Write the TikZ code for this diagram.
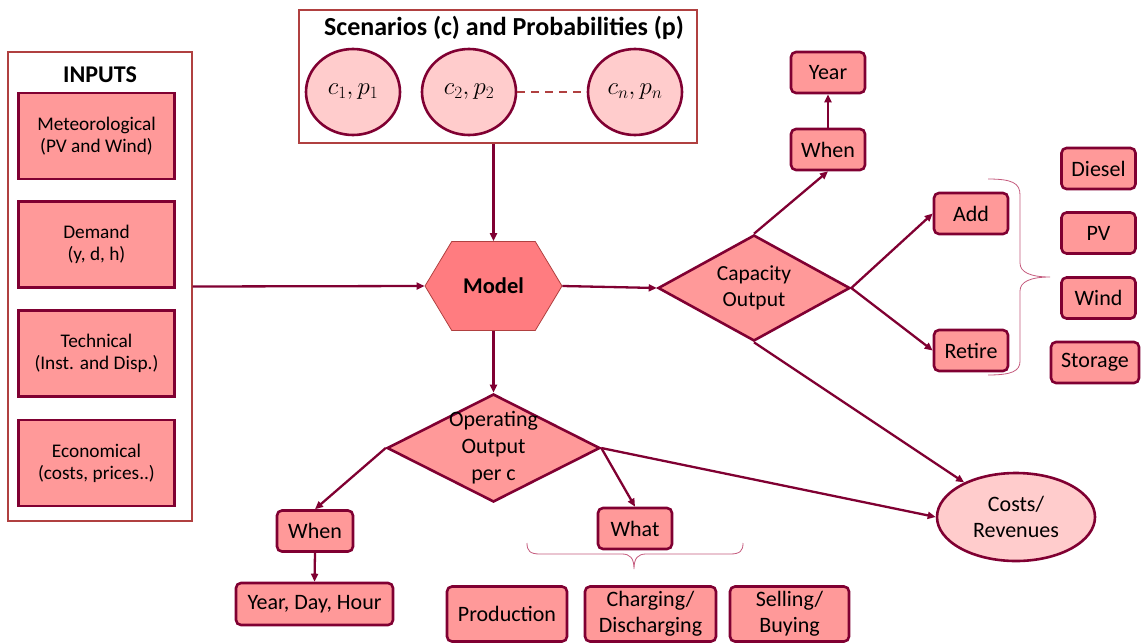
\documentclass[tikz,border=0pt]{standalone}
\usepackage{fontspec}
\setmainfont{Carlito}
\usepackage{amsmath}
\usetikzlibrary{arrows.meta,positioning,shapes.geometric,shapes.symbols}
\definecolor{mymaroon}{RGB}{128,0,50}
\definecolor{myframe}{RGB}{176,64,64}
\definecolor{mypink}{RGB}{255,153,153}
\definecolor{mylight}{RGB}{255,204,204}
\definecolor{mymodel}{RGB}{255,124,128}
\definecolor{mybrace}{RGB}{196,90,125}

\begin{document}
\begin{tikzpicture}[
    x=1pt,y=-1pt,
    frame/.style={draw=myframe,line width=1.3pt,inner sep=0pt},
    title/.style={font=\fontsize{24}{28}\selectfont\bfseries},
    inbox/.style={draw=mymaroon,line width=2.6pt,fill=mypink,minimum width=156pt,minimum height=86pt,font=\fontsize{19.3}{22}\selectfont,align=center},
    rbox/.style={draw=mymaroon,line width=2.6pt,fill=mypink,rounded corners=5pt,minimum width=74pt,minimum height=41pt,font=\fontsize{22}{26}\selectfont,align=center,inner sep=2pt},
    scen/.style={ellipse,draw=mymaroon,line width=2.6pt,fill=mylight,minimum width=94pt,minimum height=86pt,font=\fontsize{24}{28}\selectfont},
    dia/.style={diamond,draw=mymaroon,line width=2.6pt,fill=mypink,inner sep=0pt},
    arr/.style={-{Triangle[length=8pt,width=7pt]},mymaroon,line width=2.3pt},
    brc/.style={draw=mybrace,line width=0.8pt}
]
\useasboundingbox (0,0) rectangle (1142,643);

% inputs
\node[frame,minimum width=184pt,minimum height=469pt] (inputs) at (100,286.5) {};
\node[title] (inputstitle) at (100,75) {INPUTS};
\node[inbox] (met)  at (96.5,136)   {Meteorological\\(PV and Wind)};
\node[inbox] (dem)  at (96.5,244.5) {Demand\\(y, d, h)};
\node[inbox] (tech) at (96.5,353.5) {Technical\\(Inst. and Disp.)};
\node[inbox] (eco)  at (96.5,463)   {Economical\\(costs, prices..)};

% scenarios
\node[frame,minimum width=398pt,minimum height=133pt] (scen) at (498,76.5) {};
\node[title,font=\fontsize{26}{30}\selectfont\bfseries] (scentitle) at (504,28) {Scenarios (c) and Probabilities (p)};
\node[scen] (c1) at (353,92) {$c_1,p_1$};
\node[scen] (c2) at (469,92) {$c_2,p_2$};
\node[scen] (cn) at (635,92) {$c_n,p_n$};
\draw[myframe,line width=2.2pt,dash pattern=on 8pt off 6pt] (c2.east) -- (cn.west);

% model
\node[signal,signal to=west and east,signal pointer angle=118,draw=myframe,line width=0.8pt,fill=mymodel,
      minimum width=137pt,minimum height=89pt,inner sep=0pt,font=\fontsize{22.5}{26}\selectfont\bfseries] (model) at (493.5,286) {Model};

% capacity side
\node[dia,minimum width=192pt,minimum height=106pt,
      label={[font=\fontsize{21.5}{26}\selectfont,align=center]center:Capacity\\Output}] (cap) at (754,288) {};
\node[rbox] (whencap) at (828,149.5) {When};
\node[rbox] (year)    at (828,72.5)  {Year};
\node[rbox] (add)     at (971,213.5) {Add};
\node[rbox] (retire)  at (971,350.5) {Retire};
\node[rbox] (diesel)  at (1098.5,168.5) {Diesel};
\node[rbox] (pv)      at (1098.5,233)   {PV};
\node[rbox] (wind)    at (1098.5,298)   {Wind};
\node[rbox,minimum width=88pt] (storage) at (1095,362.5) {Storage};
\draw[brc] (988,179) .. controls (1012,179) and (1020,183) .. (1020,195) -- (1020,263)
    .. controls (1020,272) and (1030,277) .. (1050,277)
    .. controls (1030,277) and (1020,282) .. (1020,291) -- (1020,361)
    .. controls (1020,371) and (1012,375) .. (988,375);

% operating side
\node[dia,minimum width=213pt,minimum height=108pt,
      label={[font=\fontsize{22}{27}\selectfont,align=center]center:Operating\\Output\\per c}] (op) at (493.5,448) {};
\node[rbox,minimum width=76pt] (whenop) at (315,531) {When};
\node[rbox,minimum width=157pt,minimum height=42pt] (ydh) at (314.5,604) {Year, Day, Hour};
\node[rbox] (what) at (635,528.5) {What};
\node[rbox,minimum width=120pt,minimum height=55pt] (prod)  at (507,614)   {Production};
\node[rbox,minimum width=131pt,minimum height=55pt] (charg) at (650.5,614) {Charging/\\Discharging};
\node[rbox,minimum width=119pt,minimum height=55pt] (sell)  at (789.5,614) {Selling/\\Buying};
\draw[brc] (527,543) .. controls (527,551) and (530,554) .. (540,554) -- (622,554)
    .. controls (630,554) and (634,558) .. (634,569)
    .. controls (634,558) and (638,554) .. (646,554) -- (730,554)
    .. controls (740,554) and (743,551) .. (743,543);

% results
\node[ellipse,draw=mymaroon,line width=2.6pt,fill=mylight,minimum width=158pt,minimum height=88pt,
      inner sep=0pt,font=\fontsize{22}{26}\selectfont,align=center] (costs) at (1016,517) {Costs/\\Revenues};

% connectors
\draw[arr] (scen.south -| model.north) -- (model.north);
\foreach \a/\b in {inputs.east/model.west,model.east/cap.west,model.south/op.north,
                   cap.north/whencap.south,whencap.north/year.south,cap.east/add.west,cap.east/retire.west,
                   cap.south/costs,op.west/whenop.north,whenop.south/ydh.north,op.east/what.north,op.east/costs.west}
    \draw[arr] (\a) -- (\b);
\end{tikzpicture}
\end{document}
